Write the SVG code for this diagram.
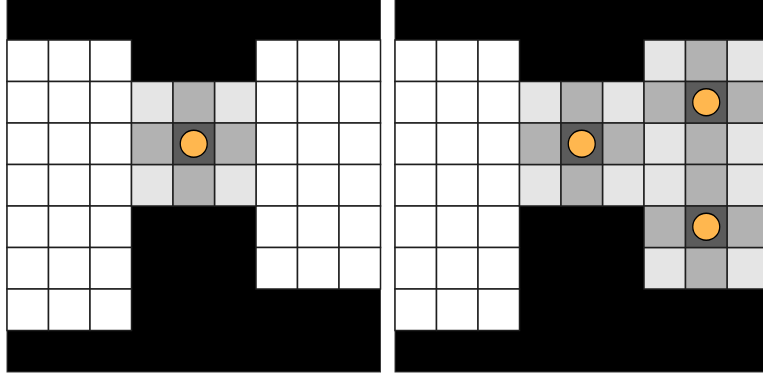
<svg xmlns="http://www.w3.org/2000/svg" width="763" height="378" viewBox="0 0 763 378">
<style>
.c{stroke:#1e1e1e;stroke-width:1.5}
.bg{fill:#000000;stroke:#3a3a3a;stroke-width:1}
.w{fill:#ffffff}
.l{fill:#e5e5e5}
.m{fill:#b2b2b2}
.d{fill:#5b5b5b}
.a{fill:#ffb74f;stroke:#000;stroke-width:1.3}
</style>
<rect width="763" height="378" fill="#ffffff"/>
<defs>
<rect id="cell" width="41.5" height="41.5"/>
</defs>
<g id="panel-left" transform="translate(7,-1.5)">
<rect class="bg" x="0" y="0" width="373.5" height="373.5"/>
<g class="c w">
<use href="#cell" x="0" y="41.5"/><use href="#cell" x="41.5" y="41.5"/><use href="#cell" x="83" y="41.5"/><use href="#cell" x="249" y="41.5"/><use href="#cell" x="290.5" y="41.5"/><use href="#cell" x="332" y="41.5"/>
<use href="#cell" x="0" y="83"/><use href="#cell" x="41.5" y="83"/><use href="#cell" x="83" y="83"/><use href="#cell" x="249" y="83"/><use href="#cell" x="290.5" y="83"/><use href="#cell" x="332" y="83"/>
<use href="#cell" x="0" y="124.5"/><use href="#cell" x="41.5" y="124.5"/><use href="#cell" x="83" y="124.5"/><use href="#cell" x="249" y="124.5"/><use href="#cell" x="290.5" y="124.5"/><use href="#cell" x="332" y="124.5"/>
<use href="#cell" x="0" y="166"/><use href="#cell" x="41.5" y="166"/><use href="#cell" x="83" y="166"/><use href="#cell" x="249" y="166"/><use href="#cell" x="290.5" y="166"/><use href="#cell" x="332" y="166"/>
<use href="#cell" x="0" y="207.5"/><use href="#cell" x="41.5" y="207.5"/><use href="#cell" x="83" y="207.5"/><use href="#cell" x="249" y="207.5"/><use href="#cell" x="290.5" y="207.5"/><use href="#cell" x="332" y="207.5"/>
<use href="#cell" x="0" y="249"/><use href="#cell" x="41.5" y="249"/><use href="#cell" x="83" y="249"/><use href="#cell" x="249" y="249"/><use href="#cell" x="290.5" y="249"/><use href="#cell" x="332" y="249"/>
<use href="#cell" x="0" y="290.5"/><use href="#cell" x="41.5" y="290.5"/><use href="#cell" x="83" y="290.5"/>
</g>
<g class="c l"><use href="#cell" x="124.5" y="83"/><use href="#cell" x="207.5" y="83"/><use href="#cell" x="124.5" y="166"/><use href="#cell" x="207.5" y="166"/></g>
<g class="c m"><use href="#cell" x="166" y="83"/><use href="#cell" x="124.5" y="124.5"/><use href="#cell" x="207.5" y="124.5"/><use href="#cell" x="166" y="166"/></g>
<g class="c d"><use href="#cell" x="166" y="124.5"/></g>
<g id="agent-left"><circle class="a" cx="186.75" cy="145.25" r="13.5"/></g>
</g>
<g id="panel-right" transform="translate(395,-1.5)">
<rect class="bg" x="0" y="0" width="373.5" height="373.5"/>
<g class="c w">
<use href="#cell" x="0" y="41.5"/><use href="#cell" x="41.5" y="41.5"/><use href="#cell" x="83" y="41.5"/>
<use href="#cell" x="0" y="83"/><use href="#cell" x="41.5" y="83"/><use href="#cell" x="83" y="83"/>
<use href="#cell" x="0" y="124.5"/><use href="#cell" x="41.5" y="124.5"/><use href="#cell" x="83" y="124.5"/>
<use href="#cell" x="0" y="166"/><use href="#cell" x="41.5" y="166"/><use href="#cell" x="83" y="166"/>
<use href="#cell" x="0" y="207.5"/><use href="#cell" x="41.5" y="207.5"/><use href="#cell" x="83" y="207.5"/>
<use href="#cell" x="0" y="249"/><use href="#cell" x="41.5" y="249"/><use href="#cell" x="83" y="249"/>
<use href="#cell" x="0" y="290.5"/><use href="#cell" x="41.5" y="290.5"/><use href="#cell" x="83" y="290.5"/>
</g>
<g class="c l">
<use href="#cell" x="249" y="41.5"/><use href="#cell" x="332" y="41.5"/>
<use href="#cell" x="124.5" y="83"/><use href="#cell" x="207.5" y="83"/>
<use href="#cell" x="249" y="124.5"/><use href="#cell" x="332" y="124.5"/>
<use href="#cell" x="124.5" y="166"/><use href="#cell" x="207.5" y="166"/><use href="#cell" x="249" y="166"/><use href="#cell" x="332" y="166"/>
<use href="#cell" x="249" y="249"/><use href="#cell" x="332" y="249"/>
</g>
<g class="c m">
<use href="#cell" x="290.5" y="41.5"/>
<use href="#cell" x="166" y="83"/><use href="#cell" x="249" y="83"/><use href="#cell" x="332" y="83"/>
<use href="#cell" x="124.5" y="124.5"/><use href="#cell" x="207.5" y="124.5"/><use href="#cell" x="290.5" y="124.5"/>
<use href="#cell" x="166" y="166"/><use href="#cell" x="290.5" y="166"/>
<use href="#cell" x="249" y="207.5"/><use href="#cell" x="332" y="207.5"/>
<use href="#cell" x="290.5" y="249"/>
</g>
<g class="c d"><use href="#cell" x="290.5" y="83"/><use href="#cell" x="166" y="124.5"/><use href="#cell" x="290.5" y="207.5"/></g>
<g id="agent-right-1"><circle class="a" cx="186.75" cy="145.25" r="13.5"/></g>
<g id="agent-right-2"><circle class="a" cx="311.25" cy="103.75" r="13.5"/></g>
<g id="agent-right-3"><circle class="a" cx="311.25" cy="228.25" r="13.5"/></g>
</g>
<g id="connectors"/>
</svg>
